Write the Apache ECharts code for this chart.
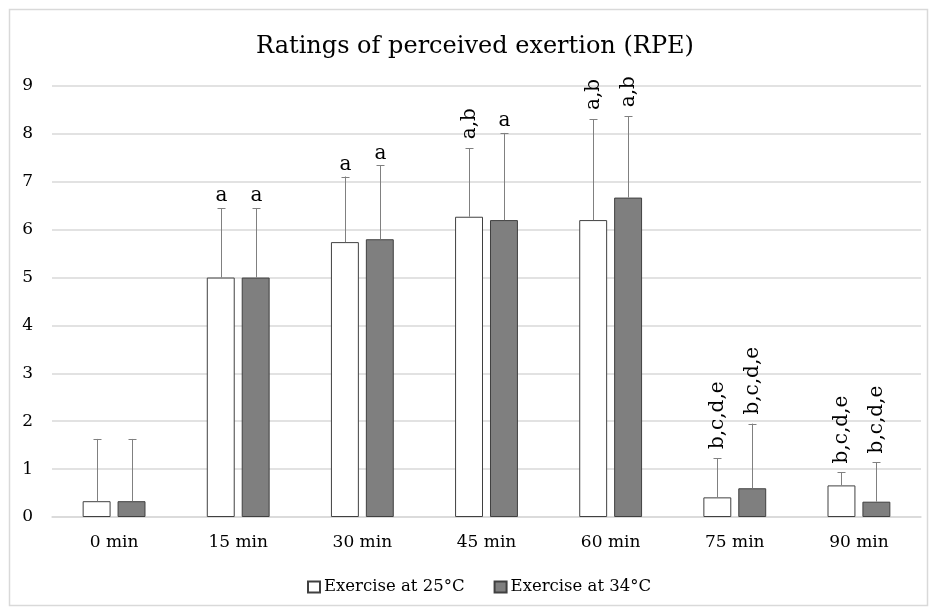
<!DOCTYPE html>
<html><head><meta charset="utf-8">
<script src="https://cdn.jsdelivr.net/npm/echarts@6/dist/echarts.min.js"></script>
<style>html,body{margin:0;padding:0;background:#fff}#c{width:930px;height:612px}</style>
</head><body><div id="c"></div>
<script>
const categories = ['0 min','15 min','30 min','45 min','60 min','75 min','90 min'];
const mean25 = [0.33, 5.0, 5.74, 6.27, 6.20, 0.41, 0.66];
const mean34 = [0.33, 5.0, 5.80, 6.20, 6.67, 0.60, 0.32];
const errTop25 = [1.63, 6.45, 7.11, 7.70, 8.31, 1.23, 0.93];
const errTop34 = [1.63, 6.45, 7.34, 8.02, 8.37, 1.95, 1.14];
const sig25 = ['', 'a', 'a', 'a,b', 'a,b', 'b,c,d,e', 'b,c,d,e'];
const sig34 = ['', 'a', 'a', 'a', 'a,b', 'b,c,d,e', 'b,c,d,e'];
const yTicks = [0,1,2,3,4,5,6,7,8,9];

const FONT = '"DejaVu Serif", serif';
const BAR_W = 0.225, BAR_GAP = 0.25;
const offFrac = (BAR_W + BAR_W*BAR_GAP)/2;

function errSeries(name, means, tops, sigs, side){
  return {
    type:'custom', name: name+' err', silent:true, z:5,
    data: means.map((m,i)=>[i, m, tops[i], sigs[i]]),
    renderItem: function(params, api){
      const i = api.value(0);
      const band = api.size([1,0])[0];
      const c = api.coord([i, api.value(1)]);
      const t = api.coord([i, api.value(2)]);
      const x = Math.round(c[0] + side*offFrac*band) + 0.5;
      const lab = sigs[i];
      const children = [
        {type:'line', shape:{x1:x,y1:c[1],x2:x,y2:t[1]}, style:{stroke:'#808080', lineWidth:1}},
        {type:'line', shape:{x1:x-4,y1:Math.round(t[1])+0.5,x2:x+4,y2:Math.round(t[1])+0.5}, style:{stroke:'#808080', lineWidth:1}}
      ];
      if(lab){
        if(lab.length>1){
          children.push({type:'text', x:x, y:t[1]-9, rotation:Math.PI/2,
            style:{text:lab, font:'20px '+FONT, fill:'#000', align:'left', verticalAlign:'middle'}});
        } else {
          children.push({type:'text', x:x, y:t[1]-2,
            style:{text:lab, font:'20px '+FONT, fill:'#000', align:'center', verticalAlign:'bottom'}});
        }
      }
      return {type:'group', children};
    }
  };
}

const chart = echarts.init(document.getElementById('c'), null, {renderer:'canvas'});
chart.setOption({
  animation:false,
  backgroundColor:'#fff',
  textStyle:{fontFamily:FONT},
  title:{text:'Ratings of perceived exertion (RPE)', left:470, textAlign:'center', top:30,
    textStyle:{fontFamily:FONT, fontSize:24, fontWeight:'normal', color:'#000'}},
  graphic:[{type:'rect', shape:{x:9.5,y:9.5,width:918,height:596}, style:{fill:'none', stroke:'#d9d9d9', lineWidth:1.5}, silent:true}],
  legend:{top:573, left:302, itemWidth:12, itemHeight:11, itemGap:29, icon:'rect',
    data:['Exercise at 25°C','Exercise at 34°C'],
    textStyle:{fontFamily:FONT, fontSize:16.5, lineHeight:18, color:'#000', padding:[0,0,0,-1]}},
  grid:{left:52, right:9, top:86, bottom:95, containLabel:false},
  xAxis:{type:'category', data:categories,
    axisLine:{show:true, lineStyle:{color:'#d9d9d9', width:1.5}},
    axisTick:{show:false},
    axisLabel:{color:'#000', fontSize:17, fontFamily:FONT, margin:17}},
  yAxis:{type:'value', min:0, max:9, interval:1,
    axisLine:{show:false}, axisTick:{show:false},
    axisLabel:{color:'#000', fontSize:17, fontFamily:FONT, margin:19, formatter:v=>yTicks.includes(v)?String(v):''},
    splitLine:{lineStyle:{color:'#d9d9d9', width:1.5}}},
  series:[
    {type:'bar', name:'Exercise at 25°C', data:mean25, barWidth:(BAR_W*100)+'%', barGap:(BAR_GAP*100)+'%',
      itemStyle:{color:'#ffffff', borderColor:'#404040', borderWidth:1}},
    {type:'bar', name:'Exercise at 34°C', data:mean34, barWidth:(BAR_W*100)+'%', barGap:(BAR_GAP*100)+'%',
      itemStyle:{color:'#7f7f7f', borderColor:'#404040', borderWidth:1}},
    errSeries('Exercise at 25°C', mean25, errTop25, sig25, -1),
    errSeries('Exercise at 34°C', mean34, errTop34, sig34, 1)
  ]
});
</script></body></html>
